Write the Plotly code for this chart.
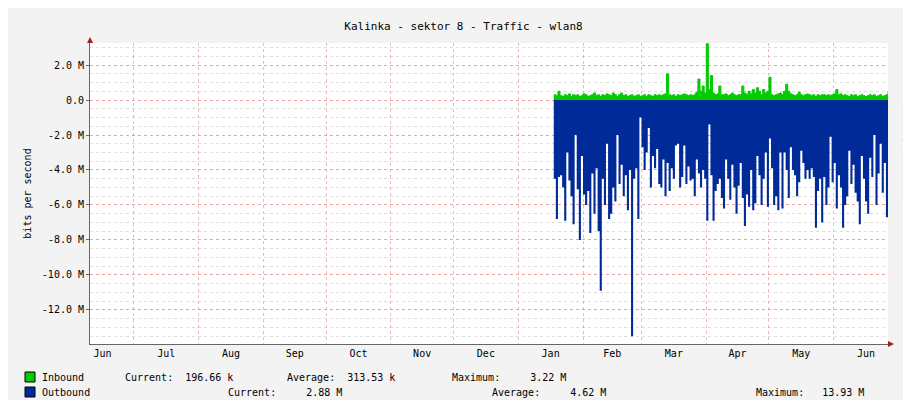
import plotly.graph_objects as go
import datetime as dt

start = dt.date(2013, 1, 18)
outbound_m = [4.5,6.8,4.4,4.3,5.0,6.9,3.0,4.6,5.5,7.1,2.0,
5.1,8.0,3.2,5.4,6.0,5.2,7.6,4.2,6.5,3.9,
7.5,10.9,4.5,6.0,2.5,6.8,6.5,5.0,5.8,2.0,
4.8,3.7,5.5,4.3,6.3,4.0,13.5,4.5,3.9,6.8,
1.0,2.7,4.0,3.0,1.6,5.0,3.2,3.9,2.8,4.8,
5.0,3.4,5.5,3.6,5.2,3.9,4.5,2.6,2.5,5.0,
4.4,2.6,4.8,3.8,4.6,4.5,5.5,3.4,4.2,5.0,
4.0,4.5,6.9,1.4,4.3,6.9,5.2,4.8,4.5,5.6,
6.2,3.4,4.5,5.7,3.7,5.0,6.5,4.9,3.6,5.6,
7.2,5.4,6.1,4.0,6.3,5.9,3.2,4.3,6.0,4.5,
3.0,6.1,2.2,3.9,6.0,5.5,6.3,3.0,6.2,3.0,
4.0,5.6,2.7,4.0,4.3,5.5,4.7,2.9,3.6,4.5,
4.0,4.5,3.9,4.4,7.3,5.2,4.5,7.0,4.4,6.0,
5.0,2.1,4.7,3.6,6.2,4.3,5.0,7.3,6.0,5.5,
2.9,4.8,3.7,5.3,5.8,7.1,3.2,4.5,5.8,6.5,
3.3,4.4,2.0,6.0,4.2,2.5,5.3,3.6,6.7,3.5]
inbound_m = [0.3,0.25,0.5,0.25,0.2,0.3,0.25,0.35,0.2,0.3,0.25,
0.3,0.2,0.25,0.35,0.3,0.2,0.25,0.3,0.4,0.25,
0.3,0.2,0.3,0.25,0.35,0.3,0.25,0.4,0.3,0.2,
0.3,0.4,0.25,0.3,0.2,0.25,0.3,0.2,0.25,0.3,
0.2,0.25,0.3,0.2,0.3,0.25,0.2,0.3,0.25,0.3,
0.25,0.3,0.35,1.5,0.3,0.25,0.3,0.2,0.3,0.25,
0.3,0.35,0.3,0.25,0.3,0.25,0.3,0.45,1.2,0.5,
0.8,0.4,3.22,0.6,1.4,0.4,0.3,0.35,0.8,0.3,
0.3,0.35,0.25,0.3,0.4,0.3,0.25,0.3,0.3,0.8,
0.4,0.3,0.5,0.35,0.6,0.4,0.7,0.5,0.3,0.6,
0.4,0.5,1.3,0.3,0.25,0.3,0.35,0.4,0.3,0.5,
0.9,0.5,0.35,0.3,0.25,0.3,0.45,0.3,0.25,0.3,
0.35,0.3,0.25,0.3,0.2,0.3,0.25,0.3,0.3,0.25,
0.3,0.25,0.3,0.35,0.6,0.3,0.35,0.25,0.3,0.25,
0.2,0.3,0.25,0.3,0.2,0.25,0.3,0.25,0.2,0.25,
0.3,0.25,0.3,0.2,0.25,0.3,0.2,0.25,0.3,0.5]
dates = [start + dt.timedelta(days=i) for i in range(len(outbound_m))]
y_ticks = [2, 0, -2, -4, -6, -8, -10, -12]
y_labels = ["2.0 M", "0.0", "-2.0 M", "-4.0 M", "-6.0 M", "-8.0 M", "-10.0 M", "-12.0 M"]

mono = "DejaVu Sans Mono"
FS = 10
fig = go.Figure()
fig.add_trace(go.Scatter(x=dates, y=[-v for v in outbound_m], mode="lines", line=dict(width=0, shape="hv"),
                         fill="tozeroy", fillcolor="#002A97", hoverinfo="skip"))
fig.add_trace(go.Scatter(x=dates, y=inbound_m, mode="lines", line=dict(width=1, color="#00CC00", shape="hv"),
                         fill="tozeroy", fillcolor="#00CC00", hoverinfo="skip"))

L, R, T, B = 82, 31, 35, 64
W, H = 911 - L - R, 400 - T - B
def px(x): return (x - L) / W
def py(y): return (400 - B - y) / H

fig.update_layout(
    width=911, height=400, margin=dict(l=L, r=R, t=T, b=B, autoexpand=False),
    paper_bgcolor="#f3f3f3", plot_bgcolor="white", showlegend=False,
    font=dict(family=mono, size=FS, color="#000"),
    title=dict(text="Kalinka - sektor 8 - Traffic - wlan8", x=0.5, xanchor="center", y=0.965, font=dict(family=mono, size=11)),
    xaxis=dict(type="date", range=["2012-06-10", "2013-06-27"], dtick="M1", tick0="2012-07-01", automargin=False,
               tickformat="%b", ticklabelmode="period", showgrid=True, gridcolor="rgba(240,120,120,0.55)",
               griddash="dot", gridwidth=1, ticks="", showline=True, linecolor="#666", zeroline=False,
               tickfont=dict(family=mono, size=FS)),
    yaxis=dict(range=[-13.95, 3.26], tickvals=y_ticks, ticktext=y_labels, showgrid=True, automargin=False,
               gridcolor="rgba(240,120,120,0.55)", griddash="dot", zeroline=False, showline=True,
               linecolor="#666", ticks="outside", ticklen=3, tickcolor="#666",
               minor=dict(dtick=0.5, tick0=0, showgrid=True, gridcolor="#dddddd", griddash="dot"),
               title=dict(text="bits per second", font=dict(family=mono, size=FS), standoff=8),
               tickfont=dict(family=mono, size=FS)),
)
anns = []
def txt(x, y, s):
    anns.append(dict(xref="paper", yref="paper", x=px(x), y=py(y), text=s, showarrow=False,
                     xanchor="left", yanchor="middle", font=dict(family=mono, size=FS, color="#000")))
txt(32, 369, "Inbound")
txt(115, 369, "Current:  196.66 k")
txt(277, 369, "Average:  313.53 k")
txt(442, 369, "Maximum:     3.22 M")
txt(32, 384, "Outbound")
txt(218, 384, "Current:     2.88 M")
txt(482, 384, "Average:     4.62 M")
txt(746, 384, "Maximum:   13.93 M")
anns.append(dict(xref="paper", yref="paper", x=px(903), y=py(95), text="RRDTOOL / TOBI OETIKER", showarrow=False,
                 textangle=90, font=dict(family=mono, size=7, color="#999")))
fig.update_layout(annotations=anns)
shapes = [
    dict(type="rect", xref="paper", yref="paper", x0=px(17), x1=px(27), y0=py(374), y1=py(364), fillcolor="#00CC00", line=dict(color="#000", width=1)),
    dict(type="rect", xref="paper", yref="paper", x0=px(17), x1=px(27), y0=py(389), y1=py(379), fillcolor="#002A97", line=dict(color="#000", width=1)),
    dict(type="path", xref="paper", yref="paper", path=f"M {px(79)} {py(35)} L {px(85)} {py(35)} L {px(82)} {py(29)} Z", fillcolor="#a02020", line=dict(width=0)),
    dict(type="path", xref="paper", yref="paper", path=f"M {px(880)} {py(333)} L {px(880)} {py(339)} L {px(886)} {py(336)} Z", fillcolor="#a02020", line=dict(width=0)),
]
fig.update_layout(shapes=shapes)
fig.write_html("out.html")
